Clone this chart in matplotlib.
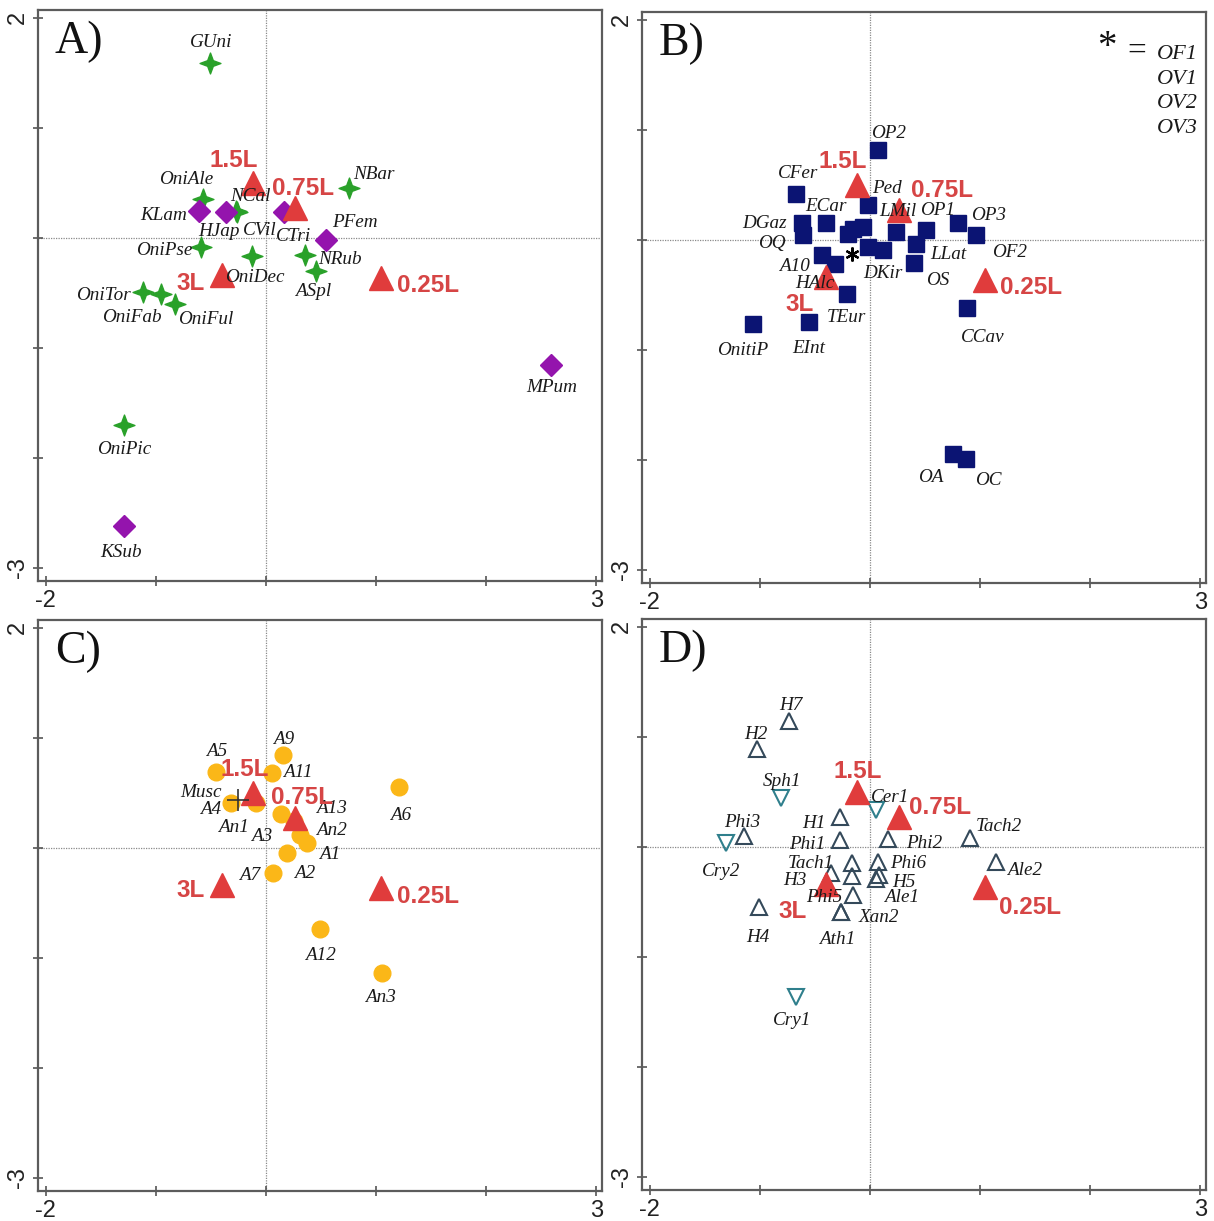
import matplotlib
matplotlib.use('Agg')
import matplotlib.pyplot as plt
from matplotlib.path import Path

W, H, DPI = 1214, 1221, 100

# ---------------- data ----------------
# Treatment centroids (same in all panels)
trt_names = ['1.5L', '0.75L', '3L', '0.25L']
trt_x = [-0.12, 0.26, -0.40, 1.04]
trt_y = [0.50, 0.27, -0.34, -0.37]

# Panel A
a_star_names = ['GUni', 'OniAle', 'NCal', 'CVil', 'NBar', 'NRub', 'ASpl', 'OniDec',
                'OniPse', 'OniTor', 'OniFab', 'OniFul', 'OniPic']
a_star_x = [-0.51, -0.57, -0.27, -0.26, 0.75, 0.35, 0.45, -0.13, -0.59, -1.12, -0.95, -0.83, -1.29]
a_star_y = [1.59, 0.35, 0.24, 0.23, 0.45, -0.16, -0.30, -0.17, -0.08, -0.49, -0.51, -0.60, -1.70]
a_dia_names = ['KLam', 'HJap', 'CTri', 'PFem', 'KSub', 'MPum']
a_dia_x = [-0.61, -0.36, 0.16, 0.54, -1.29, 2.59]
a_dia_y = [0.24, 0.23, 0.23, -0.02, -2.62, -1.16]

# Panel B
b_sq_names = ['OP2', 'CFer', 'Ped', 'ECar', 'DGaz', 'OQ', 'A10', 'HAlc', '', '', '',
              '', 'DKir', 'LMil', 'OP1', 'LLat', 'OS', 'OP3', 'OF2', 'CCav', 'TEur',
              'EInt', 'OnitiP', 'OA', 'OC']
b_sq_x = [0.07, -0.67, -0.02, -0.40, -0.62, -0.61, -0.44, -0.32, -0.20, -0.15, -0.06,
          -0.02, 0.12, 0.24, 0.51, 0.42, 0.40, 0.80, 0.96, 0.88, -0.21,
          -0.55, -1.06, 0.75, 0.87]
b_sq_y = [0.82, 0.42, 0.32, 0.15, 0.15, 0.04, -0.14, -0.22, 0.05, 0.10, 0.12,
          -0.07, -0.09, 0.07, 0.09, -0.04, -0.21, 0.15, 0.04, -0.62, -0.49,
          -0.75, -0.77, -1.95, -1.99]
b_ast_x = [-0.16]
b_ast_y = [-0.13]
b_ast_group = ['OF1', 'OV1', 'OV2', 'OV3']

# Panel C
c_circ_names = ['A5', 'A9', 'A11', 'A6', 'A4', 'An1', 'A3', 'A13', 'An2', 'A1', 'A2',
                'A7', 'A12', 'An3']
c_circ_x = [-0.45, 0.15, 0.05, 1.21, -0.32, -0.09, 0.14, 0.25, 0.31, 0.37, 0.19, 0.06, 0.49, 1.05]
c_circ_y = [0.69, 0.84, 0.68, 0.55, 0.41, 0.41, 0.31, 0.24, 0.12, 0.04, -0.05, -0.23, -0.74, -1.14]
c_plus_names = ['Musc']
c_plus_x = [-0.25]
c_plus_y = [0.43]

# Panel D
d_up_names = ['H7', 'H2', 'Phi3', 'H1', 'Phi1', 'Phi2', 'Tach2', 'Ale2', 'Tach1', 'Phi6',
              'H3', '', 'H5', 'Ale1', 'Phi5', 'Xan2', 'Ath1', 'H4']
d_up_x = [-0.74, -1.03, -1.14, -0.27, -0.27, 0.16, 0.91, 1.14, -0.16, 0.07,
          -0.35, -0.16, 0.05, 0.08, -0.15, -0.26, -0.26, -1.01]
d_up_y = [1.14, 0.89, 0.10, 0.27, 0.06, 0.07, 0.08, -0.14, -0.15, -0.14,
          -0.24, -0.27, -0.29, -0.26, -0.44, -0.59, -0.59, -0.55]
d_down_names = ['Sph1', 'Cer1', 'Cry2', 'Cry1']
d_down_x = [-0.81, 0.05, -1.31, -0.67]
d_down_y = [0.44, 0.33, 0.03, -1.37]

# ---------------- label offsets (pixels, right / down) ----------------
off_trt = {
    'A': [(-19, -22), (8, -20), (-31, 8), (47, 7)],
    'B': [(-14, -23), (43, -20), (-26, 27), (46, 7)],
    'C': [(-8, -23), (7, -21), (-31, 5), (47, 8)],
    'D': [(1, -20), (41, -10), (-33, 27), (45, 20)],
}
off_lab = {
    'GUni': (1, -20), 'OniAle': (-17, -20), 'NCal': (14, -15), 'CVil': (22, 18),
    'NBar': (25, -14), 'NRub': (35, 4), 'ASpl': (-2, 21), 'OniDec': (3, 21),
    'OniPse': (-37, 4), 'OniTor': (-39, 4), 'OniFab': (-30, 24), 'OniFul': (31, 16),
    'OniPic': (0, 25), 'KLam': (-35, 4), 'HJap': (-7, 19), 'CTri': (10, 24),
    'PFem': (29, -17), 'KSub': (-3, 27), 'MPum': (0, 22),
}
off_b = {
    'OP2': (11, -16), 'CFer': (2, -20), 'Ped': (19, -16), 'ECar': (0, -17),
    'DGaz': (-37, 0), 'OQ': (-31, 8), 'A10': (-27, 11), 'HAlc': (-20, 20),
    'DKir': (0, 24), 'LMil': (1, -21), 'OP1': (11, -19), 'LLat': (32, 10),
    'OS': (24, 18), 'OP3': (30, -8), 'OF2': (34, 17), 'CCav': (16, 30),
    'TEur': (0, 24), 'EInt': (-1, 26), 'OnitiP': (-11, 26), 'OA': (-22, 23),
    'OC': (22, 22),
}
off_c = {
    'A5': (0, -20), 'A9': (1, -16), 'A11': (26, 0), 'A6': (1, 28), 'A4': (-20, 7),
    'An1': (-23, 25), 'A3': (-20, 23), 'A13': (38, -13), 'An2': (31, -4),
    'A1': (23, 11), 'A2': (18, 20), 'A7': (-23, 2), 'A12': (0, 26), 'An3': (-1, 24),
    'Musc': (-38, -8),
}
off_d = {
    'H7': (2, -16), 'H2': (-1, -14), 'Phi3': (-2, -13), 'H1': (-26, 6),
    'Phi1': (-33, 4), 'Phi2': (37, 4), 'Tach2': (29, -11), 'Ale2': (29, 8),
    'Tach1': (-42, 0), 'Phi6': (31, 1), 'H3': (-37, 7), 'H5': (28, 4),
    'Ale1': (23, 22), 'Phi5': (-29, 2), 'Xan2': (38, 6), 'Ath1': (-4, 28),
    'H4': (-1, 30), 'Sph1': (1, -17), 'Cer1': (15, -13), 'Cry2': (-5, 28),
    'Cry1': (-4, 23),
}

# ---------------- style ----------------
plt.rcParams['font.family'] = ['Liberation Sans', 'DejaVu Sans']
SERIF = ['Liberation Serif', 'DejaVu Serif']
RED = '#e03c3c'
RED_TXT = '#d64545'
GREEN = '#2aa12a'
PURPLE = '#9414ad'
NAVY = '#0b1473'
GOLD = '#fbb718'
SLATE = '#34495a'
TEAL = '#2f7f8c'

s = 0.27
star4 = Path([(0, 1), (s, s), (1, 0), (s, -s), (0, -1), (-s, -s), (-1, 0), (-s, s), (0, 1)],
             [Path.MOVETO] + [Path.LINETO] * 7 + [Path.CLOSEPOLY])

fig = plt.figure(figsize=(W / DPI, H / DPI), dpi=DPI)
XL = (-2.07, 3.05)
YL = (-3.12, 2.07)
AW, AH = 564, 571
boxes = {'A': (38, 10), 'B': (642, 12), 'C': (38, 620), 'D': (642, 619)}


def make_ax(key):
    x0, top = boxes[key]
    ax = fig.add_axes([x0 / W, 1 - (top + AH) / H, AW / W, AH / H])
    ax.set_xlim(*XL)
    ax.set_ylim(*YL)
    ax.axhline(0, color='#8a8a8a', lw=0.9, ls=(0, (1, 1)), zorder=0)
    ax.axvline(0, color='#8a8a8a', lw=0.9, ls=(0, (1, 1)), zorder=0)
    ax.set_xticks(range(-2, 4))
    ax.set_xticklabels(['-2', '', '', '', '', '3'])
    ax.set_yticks(range(-3, 3))
    ax.set_yticklabels(['-3', '', '', '', '', '2'], rotation=90, va='center')
    ax.tick_params(direction='inout', length=7, width=1.2, color='#555555',
                   labelsize=17, pad=3, labelcolor='#222222')
    for sp in ax.spines.values():
        sp.set_color('#5c5c5c')
        sp.set_linewidth(1.6)
    ax.text(0.03, 0.944, key + ')', transform=ax.transAxes, fontsize=33,
            family=SERIF, va='center', ha='left', color='#111111')
    return ax


def lab(ax, x, y, txt, off, **kw):
    if not txt:
        return
    ax.annotate(txt, (x, y), xytext=(off[0], -off[1]), textcoords='offset pixels',
                ha='center', va='center', **kw)


def sp_label(ax, names, xs, ys, offs):
    for n, x, y in zip(names, xs, ys):
        if n:
            lab(ax, x, y, n, offs[n], family=SERIF, style='italic', fontsize=13.8,
                color='#1a1a1a', zorder=5)


def treatments(ax, key):
    ax.plot(trt_x, trt_y, ls='none', marker='^', ms=17, color=RED, mec=RED, zorder=4)
    for n, x, y, o in zip(trt_names, trt_x, trt_y, off_trt[key]):
        lab(ax, x, y, n, o, family=['Liberation Sans', 'DejaVu Sans'], weight='bold',
            fontsize=17.5, color=RED_TXT, zorder=6)


# Panel A
axA = make_ax('A')
axA.plot(a_star_x, a_star_y, ls='none', marker=star4, ms=15, color=GREEN, mec=GREEN, zorder=3)
axA.plot(a_dia_x, a_dia_y, ls='none', marker='D', ms=11, color=PURPLE, mec=PURPLE, zorder=3)
treatments(axA, 'A')
sp_label(axA, a_star_names, a_star_x, a_star_y, off_lab)
sp_label(axA, a_dia_names, a_dia_x, a_dia_y, off_lab)

# Panel B
axB = make_ax('B')
axB.plot(b_sq_x, b_sq_y, ls='none', marker='s', ms=11.5, color=NAVY, mec=NAVY, zorder=3)
treatments(axB, 'B')
axB.plot(b_ast_x, b_ast_y, ls='none', marker=(6, 2, 0), ms=10, color='black', mew=1.6, zorder=5)
sp_label(axB, b_sq_names, b_sq_x, b_sq_y, off_b)
axB.text(0.824, 0.937, '*', transform=axB.transAxes, family=SERIF, fontsize=28,
         ha='center', va='center', color='#111111')
axB.text(0.878, 0.93, '=', transform=axB.transAxes, family=SERIF, fontsize=24,
         ha='center', va='center', color='#111111')
for i, g in enumerate(b_ast_group):
    axB.text(0.95, 0.925 - i * 0.043, g, transform=axB.transAxes, family=SERIF,
             style='italic', fontsize=16, ha='center', va='center', color='#1a1a1a')

# Panel C
axC = make_ax('C')
axC.plot(c_circ_x, c_circ_y, ls='none', marker='o', ms=12, color=GOLD, mec=GOLD, zorder=3)
axC.plot(c_plus_x, c_plus_y, ls='none', marker='+', ms=16, color='#333333', mew=1.2, zorder=5)
treatments(axC, 'C')
sp_label(axC, c_circ_names, c_circ_x, c_circ_y, off_c)
sp_label(axC, c_plus_names, c_plus_x, c_plus_y, off_c)

# Panel D
axD = make_ax('D')
axD.plot(d_up_x, d_up_y, ls='none', marker='^', ms=11, mfc='none', mec=SLATE, mew=1.5, zorder=3)
axD.plot(d_down_x, d_down_y, ls='none', marker='v', ms=11, mfc='none', mec=TEAL, mew=1.5, zorder=3)
treatments(axD, 'D')
sp_label(axD, d_up_names, d_up_x, d_up_y, off_d)
sp_label(axD, d_down_names, d_down_x, d_down_y, off_d)

fig.savefig('out.png', dpi=DPI)
